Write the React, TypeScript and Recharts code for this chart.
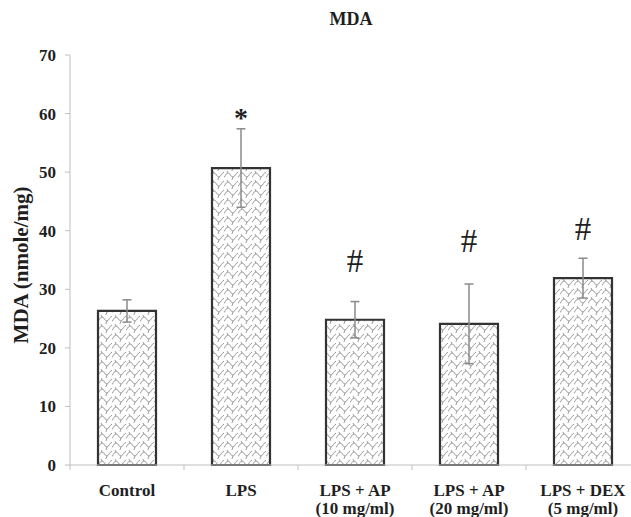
import React from 'react';
import { BarChart, Bar, XAxis, YAxis, ErrorBar, ReferenceDot, Label } from 'recharts';

// MDA levels per treatment group (nmole/mg), mean ± error
const categories = ['Control', 'LPS', 'LPS + AP (10 mg/ml)', 'LPS + AP (20 mg/ml)', 'LPS + DEX (5 mg/ml)'];
const mda = [26.3, 50.7, 24.8, 24.1, 31.9];
const mdaErr = [1.9, 6.7, 3.1, 6.8, 3.4];
const yTicks = [0, 10, 20, 30, 40, 50, 60, 70];

// significance marks and the level they sit at
const marks = ['', '*', '#', '#', '#'];
const markLevels = [0, 59.4, 35.0, 38.3, 40.5];

const data = categories.map((name, i) => ({ name, mda: mda[i], err: mdaErr[i] }));

const CHART_W = 648;
const CHART_H = 517;
const MARGIN = { top: 55, right: 8, left: 10, bottom: 2 };
const Y_AXIS_W = 60;
const PLOT_W = CHART_W - MARGIN.left - MARGIN.right - Y_AXIS_W;
const BAND = PLOT_W / categories.length;

const FONT = '"Liberation Serif", "Times New Roman", serif';
const AXIS_GREY = '#bfbfbf';
const TEXT = '#1f1f1f';

const CategoryTick = (props: any) => {
  const { x, y, payload } = props;
  const label: string = payload.value;
  const cut = label.indexOf(' (');
  const lines = cut > 0 ? [label.slice(0, cut), label.slice(cut + 1)] : [label];
  return (
    <g>
      {/* tick marks sit on category boundaries, not centres */}
      <line x1={x - BAND / 2} x2={x - BAND / 2} y1={y - 5} y2={y} stroke={AXIS_GREY} strokeWidth={1} />
      <text x={x} y={y + 26} textAnchor="middle" fontFamily={FONT} fontWeight="bold" fontSize={17} fill={TEXT}>
        {lines.map((l, i) => (
          <tspan key={i} x={x} dy={i === 0 ? 0 : 18}>{l}</tspan>
        ))}
      </text>
    </g>
  );
};

const YTitle = (props: any) => {
  const { viewBox } = props;
  const cy = viewBox.y + viewBox.height / 2 + 5;
  const cx = 20.5;
  return (
    <text
      x={cx}
      y={cy}
      transform={`rotate(-90, ${cx}, ${cy})`}
      textAnchor="middle"
      dominantBaseline="central"
      fontFamily={FONT}
      fontWeight="bold"
      fontSize={21}
      fill={TEXT}
    >
      MDA (nmole/mg)
    </text>
  );
};

export default function App() {
  return (
    <div style={{ position: 'fixed', left: 0, top: 0, width: 631, height: 517, overflow: 'hidden', background: '#fff' }}>
      <div
        style={{
          position: 'absolute',
          top: 9,
          left: 0,
          width: 702,
          textAlign: 'center',
          fontFamily: FONT,
          fontWeight: 'bold',
          fontSize: 18,
          lineHeight: '20px',
          color: TEXT,
        }}
      >
        MDA
      </div>
      <BarChart width={CHART_W} height={CHART_H} data={data} margin={MARGIN}>
        <defs>
          <pattern id="wave" patternUnits="userSpaceOnUse" width={14} height={9}>
            <rect width={14} height={9} fill="#fff" />
            <path
              d="M-1,7 C1,7 1.5,2 4,2 C6.5,2 6.5,6 9,6 C11,6 11.5,1 15,1 M4,2 L2.5,-1 M9,6 L7.5,10"
              fill="none"
              stroke="#9a9a9a"
              strokeWidth={1}
            />
          </pattern>
        </defs>
        <XAxis
          dataKey="name"
          stroke={AXIS_GREY}
          tickLine={false}
          tickSize={5}
          tickMargin={0}
          height={50}
          interval={0}
          tick={<CategoryTick />}
        />
        <YAxis
          width={Y_AXIS_W}
          domain={[0, 70]}
          ticks={yTicks}
          interval={0}
          stroke={AXIS_GREY}
          tickSize={5}
          tickMargin={9}
          tick={{ fontFamily: FONT, fontWeight: 'bold', fontSize: 17, fill: TEXT }}
        >
          <Label content={<YTitle />} />
        </YAxis>
        <Bar dataKey="mda" fill="url(#wave)" stroke="#333333" strokeWidth={2.2} barSize={58} isAnimationActive={false}>
          <ErrorBar dataKey="err" width={4.5} stroke="#8a8a8a" strokeWidth={1.5} isAnimationActive={false} />
        </Bar>
        {marks.map((m, i) =>
          m ? (
            <ReferenceDot key={i} x={categories[i]} y={markLevels[i]} r={0} stroke="none" fill="none">
              <Label
                value={m}
                position="center"
                fontFamily={FONT}
                fontWeight={m === '*' ? 'bold' : 'normal'}
                fontSize={m === '*' ? 28 : 33}
                fill={TEXT}
              />
            </ReferenceDot>
          ) : null
        )}
      </BarChart>
    </div>
  );
}
